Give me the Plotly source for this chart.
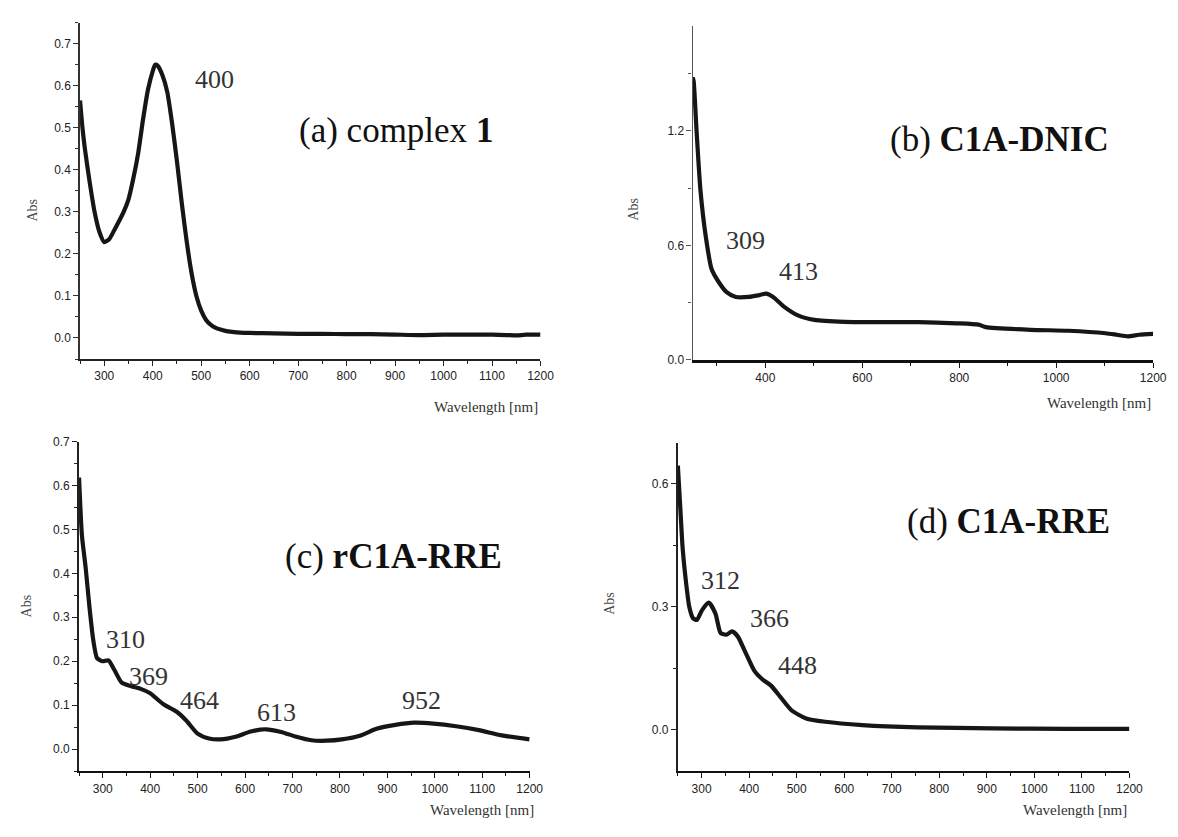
import plotly.graph_objects as go

# ---------------- data ----------------
a_wl = [250, 255, 260, 270, 280, 290, 300, 310, 320, 330, 340, 350, 360, 370, 380, 390, 400, 405, 410,
        420, 430, 440, 450, 460, 470, 480, 490, 500, 510, 520, 530, 540, 550, 560, 580, 600, 650, 700,
        750, 800, 850, 900, 950, 1000, 1050, 1100, 1130, 1150, 1170, 1200]
a_abs = [0.565, 0.50, 0.45, 0.37, 0.30, 0.252, 0.228, 0.235, 0.255, 0.277, 0.30, 0.33, 0.38, 0.44, 0.52,
         0.59, 0.635, 0.65, 0.648, 0.625, 0.585, 0.51, 0.42, 0.32, 0.23, 0.155, 0.10, 0.065, 0.043, 0.031,
         0.024, 0.020, 0.017, 0.015, 0.013, 0.012, 0.011, 0.010, 0.010, 0.009, 0.009, 0.008, 0.007, 0.008,
         0.008, 0.008, 0.007, 0.006, 0.008, 0.008]

b_wl = [250, 252, 258, 266, 277, 289, 304, 320, 339, 366, 385, 401, 416, 439, 466, 501, 563, 716, 794,
        840, 855, 947, 1025, 1102, 1125, 1148, 1171, 1200]
b_abs = [1.48, 1.46, 1.20, 0.89, 0.647, 0.476, 0.407, 0.355, 0.33, 0.33, 0.338, 0.347, 0.33, 0.278,
         0.235, 0.21, 0.20, 0.198, 0.192, 0.185, 0.172, 0.158, 0.153, 0.14, 0.132, 0.124, 0.132, 0.137]

c_wl = [250, 256, 264, 272, 280, 288, 300, 312, 324, 340, 360, 380, 400, 428, 456, 476, 500, 524, 548,
        580, 612, 644, 676, 708, 740, 772, 804, 844, 877, 917, 957, 997, 1045, 1093, 1141, 1200]
c_abs = [0.618, 0.487, 0.412, 0.323, 0.248, 0.207, 0.200, 0.202, 0.181, 0.151, 0.143, 0.137, 0.127,
         0.102, 0.085, 0.065, 0.035, 0.024, 0.022, 0.028, 0.040, 0.045, 0.039, 0.028, 0.020, 0.019,
         0.022, 0.031, 0.046, 0.055, 0.060, 0.058, 0.052, 0.043, 0.031, 0.022]

d_wl = [250, 256, 260, 266, 274, 282, 290, 301, 315, 329, 340, 352, 364, 376, 391, 411, 427, 446,
        466, 489, 520, 560, 638, 755, 912, 1069, 1200]
d_abs = [0.644, 0.524, 0.444, 0.372, 0.300, 0.272, 0.268, 0.292, 0.310, 0.284, 0.236, 0.232,
         0.240, 0.228, 0.192, 0.144, 0.124, 0.108, 0.080, 0.048, 0.028, 0.020, 0.012, 0.0064, 0.004,
         0.0024, 0.0024]

a_peaks = ["400"]
b_peaks = ["309", "413"]
c_peaks = ["310", "369", "464", "613", "952"]
d_peaks = ["312", "366", "448"]

panel_titles = ["(a) complex <b>1</b>", "(b) <b>C1A-DNIC</b>", "(c) <b>rC1A-RRE</b>", "(d) <b>C1A-RRE</b>"]

# label positions (data coordinates of each panel)
a_peak_pos = [(527, 0.615)]
b_peak_pos = [(360, 0.628), (469, 0.463)]
c_peak_pos = [(348, 0.249), (396, 0.166), (505, 0.110), (667, 0.083), (973, 0.110)]
d_peak_pos = [(340, 0.365), (443, 0.271), (502, 0.156)]
title_pos = [(902, 0.494), (884, 1.153), (912, 0.439), (946, 0.509)]

W, H = 1178, 837

fig = go.Figure()

series = [(a_wl, a_abs), (b_wl, b_abs), (c_wl, c_abs), (d_wl, d_abs)]
for i, (wl, ab) in enumerate(series):
    sfx = "" if i == 0 else str(i + 1)
    fig.add_trace(go.Scatter(x=wl, y=ab, mode="lines",
                             line=dict(color="#161616", width=4.2, shape="spline", smoothing=0.6),
                             xaxis="x" + sfx, yaxis="y" + sfx, showlegend=False, hoverinfo="skip"))

def px(x):
    return x / W

def py(y):
    return 1 - y / H

tickfont = dict(family="Liberation Sans, Arial, sans-serif", size=12, color="#222")

def xax(dom, anchor, dtick, mdtick, lw=1.6, col="#222"):
    return dict(domain=dom, anchor=anchor, range=[250, 1200], dtick=dtick, showline=True,
                linecolor=col, linewidth=lw, ticks="outside", ticklen=5, tickwidth=1.4, tickcolor=col,
                minor=dict(ticks="outside", ticklen=3, tickwidth=1.2, dtick=mdtick, tickcolor=col),
                showgrid=False, zeroline=False, tickfont=tickfont)

def yax(dom, anchor, rng, dtick, mdtick, fmt=".1f", lw=1.6, col="#333"):
    return dict(domain=dom, anchor=anchor, range=rng, dtick=dtick, tick0=0, showline=True,
                linecolor=col, linewidth=lw, ticks="outside", ticklen=5, tickwidth=1.4, tickcolor=col,
                minor=dict(ticks="outside", ticklen=3, tickwidth=1.2, dtick=mdtick, tick0=0, tickcolor=col),
                showgrid=False, zeroline=False, tickfont=tickfont, tickformat=fmt)

fig.update_layout(
    width=W, height=H, margin=dict(l=0, r=0, t=0, b=0),
    paper_bgcolor="white", plot_bgcolor="white",
    xaxis=xax([px(81), px(547)], "y", 100, 50),
    yaxis=yax([py(358), py(16)], "x", [-0.05, 0.75], 0.1, 0.05),
    xaxis2=xax([px(701), px(1167)], "y2", 200, 100, lw=2.6, col="#111"),
    yaxis2=yax([py(359), py(19)], "x2", [0, 1.75], 0.6, 0.3, lw=1.4, col="#555"),
    xaxis3=xax([px(80), px(536)], "y3", 100, 50, lw=2.4, col="#111"),
    yaxis3=yax([py(777), py(442)], "x3", [-0.05, 0.70], 0.1, 0.05, lw=1.8, col="#222"),
    xaxis4=xax([px(686), px(1143)], "y4", 100, 50, lw=2.2, col="#111"),
    yaxis4=yax([py(777), py(443)], "x4", [-0.1, 0.70], 0.3, 0.15, lw=2.0, col="#222"),
)

serif = "Liberation Serif, Times New Roman, serif"
ann = []
peak_sets = [(a_peaks, a_peak_pos), (b_peaks, b_peak_pos), (c_peaks, c_peak_pos), (d_peaks, d_peak_pos)]
for i, (labels, poss) in enumerate(peak_sets):
    sfx = "" if i == 0 else str(i + 1)
    for lab, (x, y) in zip(labels, poss):
        ann.append(dict(text=lab, x=x, y=y, xref="x" + sfx, yref="y" + sfx, showarrow=False,
                        font=dict(family=serif, size=26, color="#333")))
    tx, ty = title_pos[i]
    ann.append(dict(text=panel_titles[i], x=tx, y=ty, xref="x" + sfx, yref="y" + sfx, showarrow=False,
                    font=dict(family=serif, size=35, color="#111")))

# axis titles
abs_pos = [(23, 193), (641, 192), (17, 623), (616, 620)]
wl_pos = [(546, 407), (1167, 403), (542, 827), (1143, 827)]
for (x, y) in abs_pos:
    ann.append(dict(text="Abs", x=px(x), y=py(y), xref="paper", yref="paper", showarrow=False,
                    textangle=-90, font=dict(family=serif, size=14, color="#444")))
for (x, y) in wl_pos:
    ann.append(dict(text="Wavelength [nm]", x=px(x), y=py(y), xref="paper", yref="paper",
                    showarrow=False, xanchor="right", font=dict(family=serif, size=15, color="#333")))

fig.update_layout(annotations=ann)
fig.write_html("out.html", config={"displayModeBar": False},
               post_script="document.body.style.margin='0';document.body.style.overflow='hidden';")
